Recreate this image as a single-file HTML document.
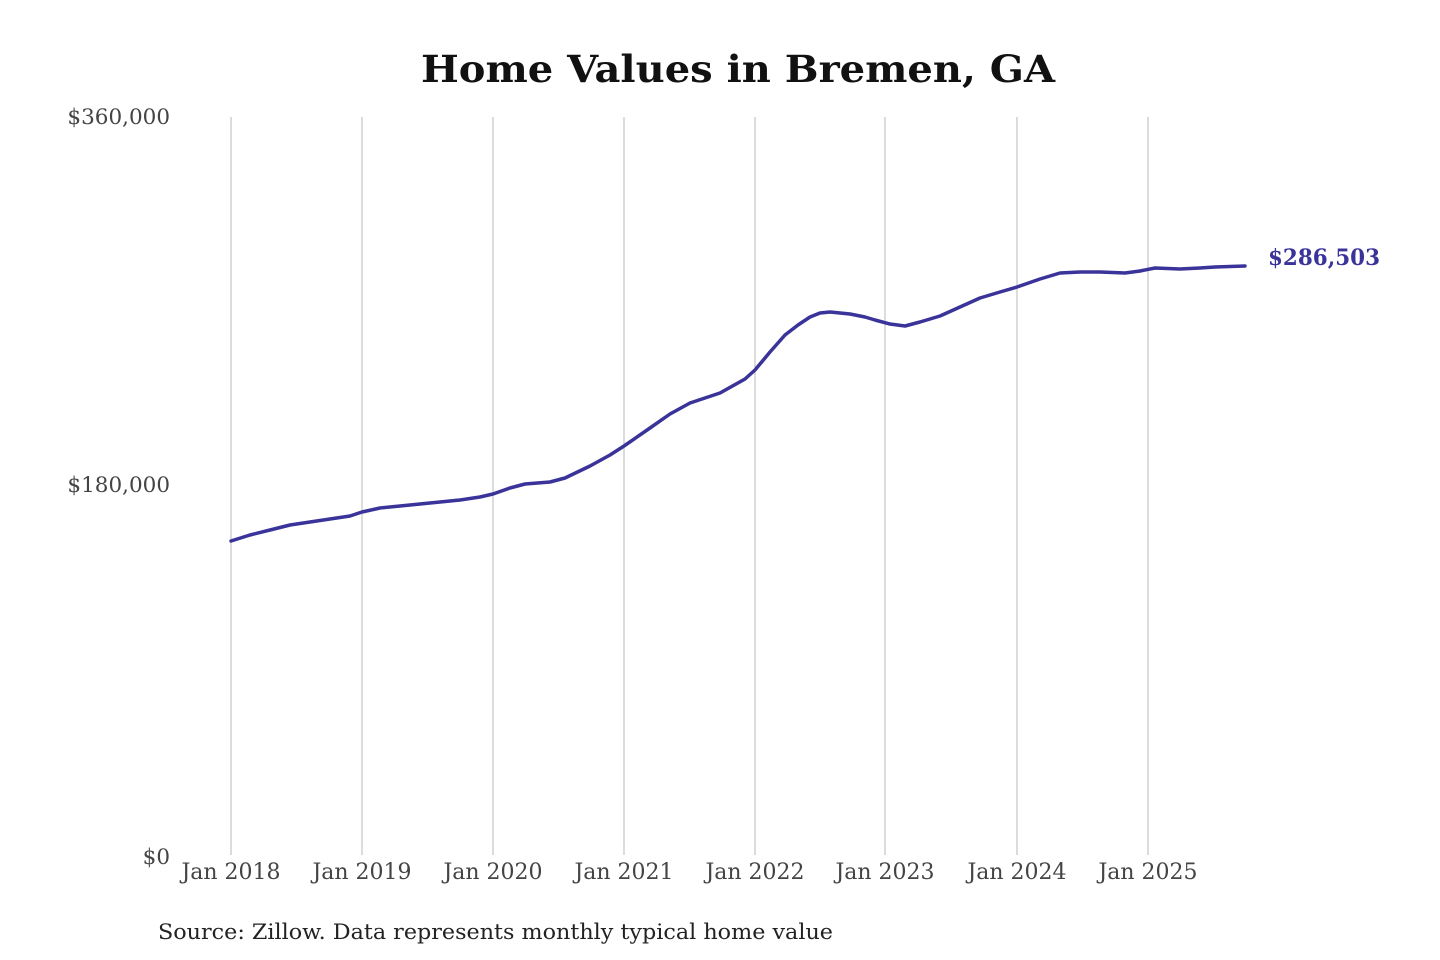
<!DOCTYPE html>
<html><head><meta charset="utf-8"><style>
html,body{margin:0;padding:0;background:#fff;}
svg{display:block;}
</style></head><body>
<svg width="1440" height="960" xmlns="http://www.w3.org/2000/svg" font-family="'DejaVu Serif','Liberation Serif',serif">
<rect width="1440" height="960" fill="#fff"/>
<text x="738" y="82" text-anchor="middle" font-size="37" font-weight="bold" fill="#111" textLength="634" lengthAdjust="spacingAndGlyphs">Home Values in Bremen, GA</text>
<g stroke="#c4c4c4" stroke-width="1.2">
<line x1="231" y1="117" x2="231" y2="855"/>
<line x1="362" y1="117" x2="362" y2="855"/>
<line x1="493" y1="117" x2="493" y2="855"/>
<line x1="624" y1="117" x2="624" y2="855"/>
<line x1="755" y1="117" x2="755" y2="855"/>
<line x1="885" y1="117" x2="885" y2="855"/>
<line x1="1017" y1="117" x2="1017" y2="855"/>
<line x1="1148" y1="117" x2="1148" y2="855"/>
</g>
<g font-size="21.5" fill="#444" text-anchor="end">
<text x="170" y="124">$360,000</text>
<text x="170" y="492">$180,000</text>
<text x="170" y="864">$0</text>
</g>
<g font-size="22" fill="#444" text-anchor="middle">
<text x="231" y="879">Jan 2018</text>
<text x="362" y="879">Jan 2019</text>
<text x="493" y="879">Jan 2020</text>
<text x="624" y="879">Jan 2021</text>
<text x="755" y="879">Jan 2022</text>
<text x="885" y="879">Jan 2023</text>
<text x="1017" y="879">Jan 2024</text>
<text x="1148" y="879">Jan 2025</text>
</g>
<polyline fill="none" stroke="#3a3399" stroke-width="3.5" stroke-linejoin="round" stroke-linecap="round" points="231,541 250,535 270,530 290,525 310,522 330,519 350,516 362,512 380,508 400,506 420,504 440,502 460,500 480,497 493,494 510,488 525,484 550,482 565,478 590,466 610,455 624,446 650,428 670,414 690,403 705,398 720,393 745,379 755,370 770,352 785,335 798,325 810,317 820,313 830,312 850,314 865,317 875,320 890,324 905,326 920,322 940,316 960,307 980,298 1000,292 1017,287 1040,279 1060,273 1080,272 1100,272 1125,273 1140,271 1155,268 1180,269 1200,268 1215,267 1245,266"/>
<text x="1268" y="265" font-size="22" font-weight="bold" fill="#3a3399" textLength="112" lengthAdjust="spacingAndGlyphs">$286,503</text>
<text x="158" y="939" font-size="21" fill="#222" textLength="675" lengthAdjust="spacingAndGlyphs">Source: Zillow. Data represents monthly typical home value</text>
</svg>
</body></html>
